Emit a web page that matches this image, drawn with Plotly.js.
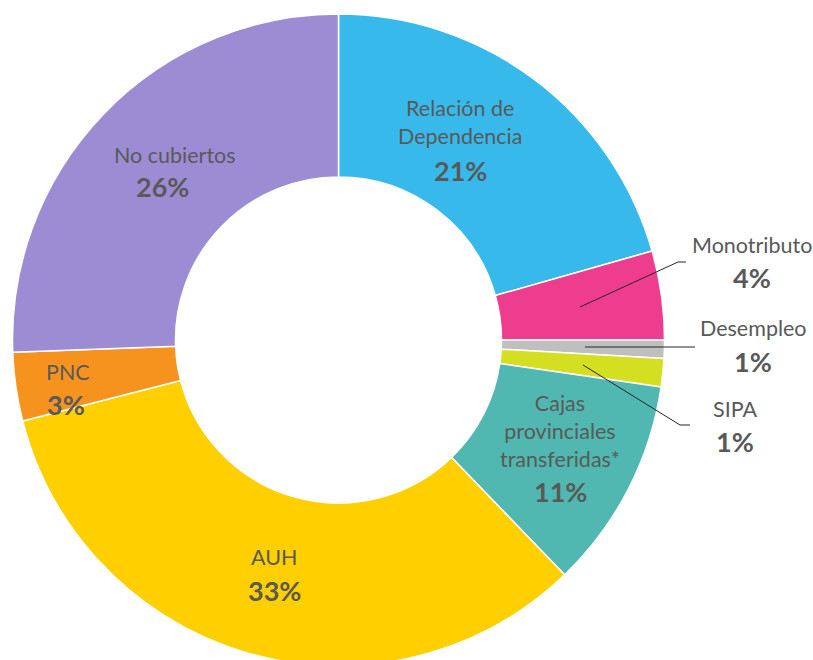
<!DOCTYPE html>
<html>
<head>
<meta charset="utf-8">
<script src="https://cdn.plot.ly/plotly-3.0.1.min.js"></script>
<style>
  html, body { margin: 0; padding: 0; overflow: hidden; background: #fff; }
  #chart { width: 813px; height: 672px; }
</style>
</head>
<body>
<div id="chart"></div>
<script>
// ---- Data ----
const categories = ["Relación de Dependencia", "Monotributo", "Desempleo", "SIPA",
  "Cajas provinciales transferidas*", "AUH", "PNC", "No cubiertos"];
const displayNames = ["Relación de<br>Dependencia", "Monotributo", "Desempleo", "SIPA",
  "Cajas<br>provinciales<br>transferidas*", "AUH", "PNC", "No cubiertos"];
const shares = [20.6, 4.4, 0.9, 1.4, 10.5, 33.2, 3.4, 25.6];
const sliceColors = ["#37BAEB", "#EE3C8F", "#BFBFBF", "#D5DF21", "#50B8B0", "#FFCF00", "#F6931E", "#9C8CD4"];

// ---- Layout helpers ----
const W = 813, H = 672;
const px = (x, y) => [x / W, (H - y) / H];
const textColor = "#595959";
const fontFam = "Lato, 'Open Sans', sans-serif";

// label placement (pixel centres of name / percentage)
const labelPos = [
  {nx: 460, ny: 122, px: 460, py: 170},
  {nx: 752, ny: 245, px: 752, py: 277},
  {nx: 753, ny: 328, px: 753, py: 361},
  {nx: 735, ny: 409, px: 735, py: 441},
  {nx: 560, ny: 431, px: 560, py: 491},
  {nx: 274, ny: 557, px: 274, py: 590},
  {nx: 68, ny: 372, px: 66, py: 404},
  {nx: 175, ny: 155, px: 162, py: 186}
];

const annotations = [];
categories.forEach((c, i) => {
  const p = labelPos[i];
  const [ax, ay] = px(p.nx, p.ny);
  const [bx, by] = px(p.px, p.py);
  annotations.push({x: ax, y: ay, xref: "paper", yref: "paper", showarrow: false,
    text: displayNames[i], xanchor: "center", yanchor: "middle",
    font: {family: fontFam, size: 21.5, color: textColor}});
  annotations.push({x: bx, y: by, xref: "paper", yref: "paper", showarrow: false,
    text: "<b>" + Math.round(shares[i]) + "%</b>", xanchor: "center", yanchor: "middle",
    font: {family: fontFam, size: 27, color: textColor}});
});

// leader lines for small slices
const leaders = [
  [[580, 307], [678, 262], [686, 262]],
  [[585, 347], [695, 347]],
  [[583, 365], [680, 425], [690, 425]]
];
const shapes = leaders.map(pts => {
  const path = pts.map((p, k) => {
    const [x, y] = px(p[0], p[1]);
    return (k === 0 ? "M" : "L") + x + "," + y;
  }).join(" ");
  return {type: "path", xref: "paper", yref: "paper", path: path,
    line: {color: "#262626", width: 1}};
});

const trace = {
  type: "pie",
  labels: categories,
  values: shares,
  sort: false,
  direction: "clockwise",
  rotation: 0,
  hole: 0.5,
  textinfo: "none",
  hoverinfo: "label+percent",
  marker: {colors: sliceColors, line: {color: "#FFFFFF", width: 1.5}},
  domain: {x: [12.5 / W, 664.5 / W], y: [6 / H, 658 / H]},
  showlegend: false
};

const layout = {
  width: W, height: H,
  margin: {l: 0, r: 0, t: 0, b: 0},
  paper_bgcolor: "#FFFFFF",
  showlegend: false,
  annotations: annotations,
  shapes: shapes
};

Plotly.newPlot("chart", [trace], layout, {displayModeBar: false, staticPlot: true});
</script>
</body>
</html>
